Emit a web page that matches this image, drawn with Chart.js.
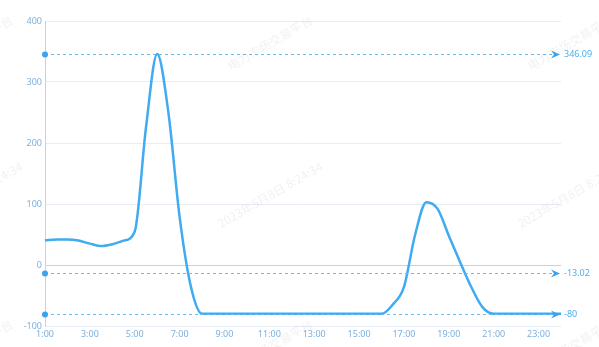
<!DOCTYPE html>
<html>
<head>
<meta charset="utf-8">
<script src="https://cdn.jsdelivr.net/npm/chart.js@4/dist/chart.umd.min.js"></script>
<style>
html,body{margin:0;padding:0;background:#fff;}
#wrap{position:relative;width:599px;height:347px;}
</style>
</head>
<body>
<div id="wrap"><canvas id="c"></canvas></div>
<script>
// Categories: half-hourly times 1:00 .. 24:00
const categories = ["1:00","1:30","2:00","2:30","3:00","3:30","4:00","4:30","5:00","5:30","6:00","6:30","7:00","7:30","8:00","8:30","9:00","9:30","10:00","10:30","11:00","11:30","12:00","12:30","13:00","13:30","14:00","14:30","15:00","15:30","16:00","16:30","17:00","17:30","18:00","18:30","19:00","19:30","20:00","20:30","21:00","21:30","22:00","22:30","23:00","23:30","24:00"];
const seriesValues = [40,42,42,40,35,31,34,40,55,225,346.09,250,79,-35,-80,-80,-80,-80,-80,-80,-80,-80,-80,-80,-80,-80,-80,-80,-80,-80,-80,-65,-36,50,103,92,48,5,-36,-69,-80,-80,-80,-80,-80,-80,-80];
const markLineValues = [346.09, -13.02, -80];
const markLineLabels = ["346.09", "-13.02", "-80"];
const yTicks = [-100, 0, 100, 200, 300, 400];
const watermarkTexts = ["电力市场交易平台", "2023年5月8日 8:24:34"];

const FONT = '"Noto Sans", "Noto Sans CJK SC", sans-serif';

const markLinePlugin = {
  id: 'markLines',
  afterDatasetsDraw(chart) {
    const ctx = chart.ctx, ca = chart.chartArea, ys = chart.scales.y;
    ctx.save();
    markLineValues.forEach((v, i) => {
      const y = Math.round(ys.getPixelForValue(v)) + 0.5;
      ctx.strokeStyle = '#6cbcf0';
      ctx.lineWidth = 1;
      ctx.setLineDash([3, 3]);
      ctx.beginPath();
      ctx.moveTo(ca.left, y);
      ctx.lineTo(ca.right - 6, y);
      ctx.stroke();
      ctx.setLineDash([]);
      ctx.fillStyle = '#3aa3ec';
      ctx.beginPath();
      ctx.arc(ca.left, y, 3, 0, Math.PI * 2);
      ctx.fill();
      const tip = ca.right - 1;
      ctx.beginPath();
      ctx.moveTo(tip, y);
      ctx.lineTo(tip - 9, y - 4);
      ctx.lineTo(tip - 6, y);
      ctx.lineTo(tip - 9, y + 4);
      ctx.closePath();
      ctx.fill();
      ctx.fillStyle = '#52aeea';
      ctx.font = '9px ' + FONT;
      ctx.textAlign = 'left';
      ctx.textBaseline = 'middle';
      ctx.fillText(markLineLabels[i], ca.right + 3, y);
    });
    ctx.restore();
  }
};

const watermarkPlugin = {
  id: 'watermark',
  afterDraw(chart) {
    const ctx = chart.ctx;
    ctx.save();
    ctx.fillStyle = 'rgba(120,120,120,0.10)';
    ctx.font = '12px "Noto Sans CJK SC", sans-serif';
    ctx.textAlign = 'center';
    ctx.textBaseline = 'middle';
    const rows = [43, 195, 347];
    const cols = [-30, 270, 570];
    rows.forEach((ry, r) => {
      cols.forEach(cx => {
        ctx.save();
        ctx.translate(cx, ry);
        ctx.rotate(-30 * Math.PI / 180);
        ctx.fillText(watermarkTexts[r % 2], 0, 0);
        ctx.restore();
      });
    });
    ctx.restore();
  }
};

new Chart(document.getElementById('c'), {
  type: 'line',
  data: {
    labels: categories,
    datasets: [{
      data: seriesValues,
      borderColor: '#40abf0',
      borderWidth: 2.5,
      pointRadius: 0,
      fill: false,
      cubicInterpolationMode: 'monotone'
    }]
  },
  options: {
    responsive: true,
    maintainAspectRatio: false,
    animation: false,
    layout: { padding: { left: 0, top: 21, right: 38, bottom: 0 } },
    plugins: { legend: { display: false }, tooltip: { enabled: false } },
    scales: {
      x: {
        type: 'category',
        offset: false,
        grid: { display: false, drawTicks: false },
        border: { display: false },
        ticks: {
          autoSkip: false,
          maxRotation: 0,
          padding: 3,
          color: '#7cb0df',
          font: { size: 9, family: FONT },
          callback: function(val, idx) { return idx % 4 === 0 ? categories[idx] : ''; }
        },
        afterFit(s) { s.height = 21; }
      },
      y: {
        min: -100,
        max: 400,
        afterBuildTicks(s) { s.ticks = yTicks.map(v => ({ value: v })); },
        grid: {
          drawTicks: false,
          color: ctx => ctx.tick && ctx.tick.value === 0 ? '#b9d5f0' : '#e7ecf5',
          lineWidth: 1
        },
        border: { display: true, color: '#b9d5f0' },
        ticks: {
          padding: 3,
          color: '#7cb0df',
          font: { size: 9, family: FONT }
        },
        afterFit(s) { s.width = 45; }
      }
    }
  },
  plugins: [markLinePlugin, watermarkPlugin]
});
</script>
</body>
</html>
